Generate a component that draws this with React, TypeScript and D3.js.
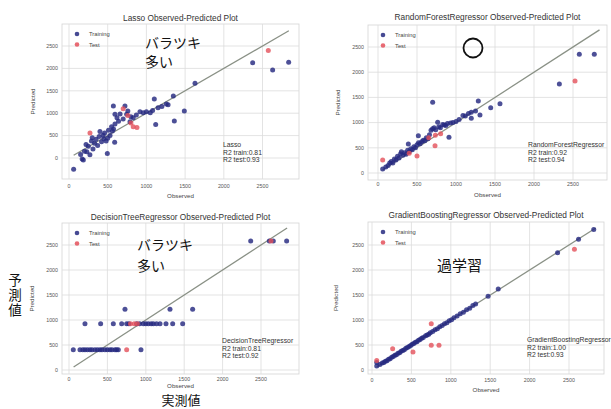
import React from 'react';
import * as d3 from 'd3';

// ---------- data ----------
const TICKS = [0, 500, 1000, 1500, 2000, 2500];
const TICK_LABELS = ['0', '500', '1000', '1500', '2000', '2500'];
const MODEL_NAMES = ['Lasso', 'RandomForestRegressor', 'DecisionTreeRegressor', 'GradientBoostingRegressor'];
const R2_TRAIN = ['0.81', '0.92', '0.81', '1.00'];
const R2_TEST = ['0.93', '0.94', '0.92', '0.93'];
const LEGEND_LABELS = ['Training', 'Test'];
const DIAG = [60, 2840];

const lassoTrain: [number, number][] = [
  [60, -250], [150, 80], [170, -20], [185, -45], [200, 150], [220, 300], [230, 140], [250, 260], [270, 70],
  [290, 380], [300, 450], [310, 200], [330, 330], [350, 420], [370, 280], [390, 480], [400, 590], [420, 360],
  [440, 510], [450, 430], [460, 560], [480, 380], [500, 440], [495, 100], [510, 620], [530, 500], [550, 700],
  [560, 600], [575, 650], [590, 350], [594, 760], [573, 1160], [594, 975], [620, 900], [640, 820], [660, 980],
  [700, 870], [723, 1160], [745, 975], [760, 1050], [788, 810], [800, 920], [830, 900], [870, 960], [917, 1034],
  [960, 1010], [1000, 1030], [1050, 1010], [1080, 1060], [1102, 1317], [1120, 750], [1150, 1120], [1200, 1150],
  [1257, 1205], [1280, 1190], [1348, 1384], [1361, 826], [1490, 1049], [1628, 1667], [2373, 2128],
  [2631, 1964], [2838, 2136],
];
const lassoTest: [number, number][] = [
  [271, 560], [878, 680], [2575, 2400], [760, 950], [800, 780], [700, 1100], [830, 700],
];

const rfTrain: [number, number][] = [
  [60, 80], [100, 120], [130, 150], [150, 200], [170, 230], [190, 200], [210, 280], [230, 260], [250, 330],
  [270, 300], [290, 380], [300, 420], [320, 350], [340, 400], [360, 370], [380, 450], [389, 575], [400, 420],
  [420, 480], [440, 460], [460, 520], [480, 500], [500, 560], [517, 740], [520, 600], [540, 580], [560, 620],
  [580, 650], [600, 640], [620, 700], [640, 680], [660, 760], [680, 850], [700, 880], [701, 1402], [720, 900],
  [740, 860], [765, 1006], [780, 920], [800, 900], [830, 960], [850, 950], [870, 940], [890, 980], [910, 708],
  [930, 990], [960, 1000], [1000, 1020], [1040, 1060], [1089, 1140], [1120, 1130], [1160, 1180], [1196, 1204],
  [1196, 1085], [1250, 1230], [1286, 1428], [1307, 1151], [1445, 1296], [1564, 1375], [2325, 1766],
  [2581, 2355], [2773, 2355],
];
const rfTest: [number, number][] = [
  [60, 260], [500, 337], [731, 542], [735, 747], [803, 780], [2526, 1825], [650, 700], [400, 390],
];

const dtTrain: [number, number][] = [
  [56, 407], [143, 407], [180, 407], [208, 407], [240, 407], [273, 407], [300, 407], [338, 407], [370, 407],
  [403, 407], [430, 407], [468, 407], [500, 407], [534, 407], [560, 407], [599, 407], [620, 407], [642, 407],
  [937, 407],
  [208, 927], [412, 927], [577, 927], [686, 927], [751, 927], [780, 927], [881, 927], [920, 927], [968, 927],
  [1000, 927], [1033, 927], [1070, 927], [1098, 927], [1140, 927], [1185, 927], [1263, 927], [1350, 927],
  [1480, 927],
  [729, 1213], [1315, 1213], [1610, 1213],
  [2366, 2580], [2608, 2580], [2660, 2580], [2834, 2580],
];
const dtTest: [number, number][] = [
  [751, 407], [800, 927], [850, 927], [890, 927], [2630, 2580],
];

const gbTrain: [number, number][] = [
  [60, 80], [60, 150], [100, 110], [130, 140], [150, 150], [170, 175], [190, 185], [210, 215], [230, 225],
  [250, 255], [270, 268], [290, 295], [310, 305], [330, 335], [350, 345], [370, 375], [390, 392], [410, 405],
  [430, 436], [450, 448], [470, 472], [490, 488], [510, 515], [530, 528], [550, 555], [570, 566], [590, 594],
  [610, 608], [630, 636], [650, 648], [680, 684], [700, 702], [720, 716], [740, 745], [770, 768], [800, 805],
  [830, 826], [860, 864], [890, 888], [920, 924], [950, 946], [980, 985], [1010, 1006], [1040, 1046],
  [1080, 1078], [1120, 1125], [1160, 1156], [1200, 1205], [1240, 1236], [1280, 1290], [1315, 1320],
  [1473, 1473], [1602, 1620], [2355, 2347], [2621, 2613], [2814, 2810],
];
const gbTest: [number, number][] = [
  [60, 190], [262, 427], [520, 360], [752, 927], [752, 493], [850, 493], [2569, 2413],
];

const TRAIN_SETS = [lassoTrain, rfTrain, dtTrain, gbTrain];
const TEST_SETS = [lassoTest, rfTest, dtTest, gbTest];

// ---------- layout ----------
const LAYOUT = [
  { left: 62, right: 299, top: 24, bottom: 179, x0: 69, x2500: 262.5, y0: 158, y2500: 46, titleY: 20.5, xTickY: 187.5, xLabelY: 197.5, yLabelX: 35, infoX: 223, infoY: 147 },
  { left: 368, right: 607, top: 25, bottom: 180, x0: 378, x2500: 573, y0: 173, y2500: 47, titleY: 19.5, xTickY: 186, xLabelY: 197, yLabelX: 340, infoX: 528, infoY: 147 },
  { left: 62, right: 299, top: 223, bottom: 374, x0: 69, x2500: 261, y0: 370, y2500: 245, titleY: 220, xTickY: 380.5, xLabelY: 388.3, yLabelX: 34, infoX: 222, infoY: 343 },
  { left: 368, right: 604, top: 222, bottom: 374, x0: 372, x2500: 569, y0: 370, y2500: 245, titleY: 217.5, xTickY: 382, xLabelY: 392, yLabelX: 338, infoX: 527, infoY: 342 },
];

const FONT = '"Liberation Sans", Arial, sans-serif';
const JP = '"Noto Sans CJK JP", sans-serif';
const TRAIN_COLOR = '#262a80';
const TEST_COLOR = '#e4505a';

function Panel({ i }: { i: number }) {
  const L = LAYOUT[i];
  const x = d3.scaleLinear().domain([0, 2500]).range([L.x0, L.x2500]);
  const y = d3.scaleLinear().domain([0, 2500]).range([L.y0, L.y2500]);
  const line = d3.line<number>().x((d) => x(d)).y((d) => y(d));
  const cx = (L.left + L.right) / 2;
  const cy = (L.top + L.bottom) / 2;
  return (
    <g>
      <rect x={L.left} y={L.top} width={L.right - L.left} height={L.bottom - L.top} fill="#fff" stroke="#d4d4d4" strokeWidth={0.8} />
      {TICKS.map((t) => (
        <g key={'g' + t}>
          <line x1={x(t)} x2={x(t)} y1={L.top} y2={L.bottom} stroke="#dcdcdc" strokeWidth={0.8} />
          <line x1={L.left} x2={L.right} y1={y(t)} y2={y(t)} stroke="#dcdcdc" strokeWidth={0.8} />
        </g>
      ))}
      {TICKS.map((t, k) => (
        <g key={'t' + t}>
          <text x={x(t)} y={L.xTickY} fontSize={5.3} fill="#555" textAnchor="middle" fontFamily={FONT}>{TICK_LABELS[k]}</text>
          <text x={L.left - 4} y={y(t) + 1.8} fontSize={5.3} fill="#555" textAnchor="end" fontFamily={FONT}>{TICK_LABELS[k]}</text>
        </g>
      ))}
      <path d={line(DIAG) || ''} stroke="#8a9186" strokeWidth={1.3} fill="none" />
      {TRAIN_SETS[i].map((d, k) => (
        <circle key={'a' + k} cx={x(d[0])} cy={y(d[1])} r={2.5} fill={TRAIN_COLOR} fillOpacity={0.82} />
      ))}
      {TEST_SETS[i].map((d, k) => (
        <circle key={'b' + k} cx={x(d[0])} cy={y(d[1])} r={2.5} fill={TEST_COLOR} fillOpacity={0.8} />
      ))}
      <text x={cx} y={L.titleY} fontSize={8.3} fill="#333" textAnchor="middle" fontFamily={FONT}>
        {MODEL_NAMES[i] + '  Observed-Predicted Plot'}
      </text>
      <text x={cx} y={L.xLabelY} fontSize={6.2} fill="#444" textAnchor="middle" fontFamily={FONT}>Observed</text>
      <text x={L.yLabelX} y={cy} fontSize={6.2} fill="#444" textAnchor="middle" fontFamily={FONT}
        transform={`rotate(-90 ${L.yLabelX} ${cy})`}>Predicted</text>
      {LEGEND_LABELS.map((lab, k) => (
        <g key={lab}>
          <circle cx={L.left + 15} cy={L.top + 10 + k * 10.5} r={2.3} fill={k === 0 ? TRAIN_COLOR : TEST_COLOR} fillOpacity={0.85} />
          <text x={L.left + 27} y={L.top + 12 + k * 10.5} fontSize={5.8} fill="#444" fontFamily={FONT}>{lab}</text>
        </g>
      ))}
      {[MODEL_NAMES[i], 'R2 train:' + R2_TRAIN[i], 'R2 test:' + R2_TEST[i]].map((s, k) => (
        <text key={s} x={L.infoX} y={L.infoY + k * 7.5} fontSize={6.8} fill="#333" fontFamily={FONT}>{s}</text>
      ))}
    </g>
  );
}

export default function App() {
  return (
    <svg width={611} height={409} style={{ position: 'absolute', left: 0, top: 0, background: '#fff' }}>
      <rect x={0} y={0} width={611} height={409} fill="#fff" />
      {LAYOUT.map((_, i) => <Panel key={i} i={i} />)}
      {/* annotations */}
      <text x={145} y={48} fontSize={14} fill="#111" fontFamily={JP}>バラツキ</text>
      <text x={145} y={67} fontSize={14} fill="#111" fontFamily={JP}>多い</text>
      <text x={137} y={250} fontSize={14} fill="#111" fontFamily={JP}>バラツキ</text>
      <text x={137} y={271} fontSize={14} fill="#111" fontFamily={JP}>多い</text>
      <text x={437} y={271} fontSize={15} fill="#111" fontFamily={JP}>過学習</text>
      <circle cx={473} cy={48} r={9.5} fill="none" stroke="#111" strokeWidth={1.8} />
      <text x={15} y={273} fontSize={13.5} fill="#111" fontFamily={JP}
        style={{ writingMode: 'vertical-rl', letterSpacing: '1.5px' }}>予測値</text>
      <text x={181} y={405.2} fontSize={13} fill="#111" textAnchor="middle" fontFamily={JP}>実測値</text>
    </svg>
  );
}
